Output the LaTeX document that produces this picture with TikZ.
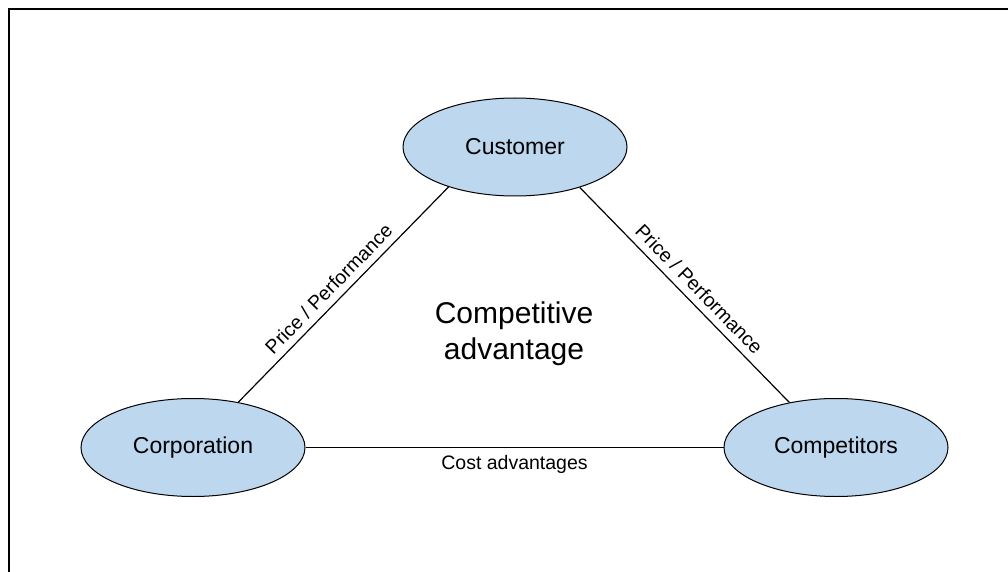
\documentclass[tikz,border=0pt]{standalone}
\usepackage{fontspec}
\setmainfont{Liberation Sans}
\usetikzlibrary{shapes.geometric}
\definecolor{cellblue}{RGB}{189,215,238}
\begin{document}
\begin{tikzpicture}[x=1pt,y=1pt,
  ell/.style={ellipse, draw=black, line width=1pt, fill=cellblue, minimum width=224pt, minimum height=98pt, inner sep=0pt, font=\fontsize{23}{27}\selectfont},
  lab/.style={font=\fontsize{19.5}{23}\selectfont, text=black, inner sep=7pt},
  conn/.style={draw=black, line width=1.2pt},
  frameline/.style={draw=black, line width=2pt}]
\useasboundingbox (0,0) rectangle (1008,571);
\coordinate (fa) at (8.5,-5);
\coordinate (fb) at (8.5,561.5);
\coordinate (fc) at (1015,561.5);
\draw[frameline] (fa) -- (fb) -- (fc);
\node[ell] (Customer) at (515,424) {Customer};
\node[ell] (Corporation) at (193,123.5) {Corporation};
\node[ell] (Competitors) at (836,123.5) {Competitors};
\node[align=center, font=\fontsize{30}{36}\selectfont] (adv) at (514,237) {Competitive\\advantage};
\draw[conn] (Corporation.45) -- node[lab, pos=0.48, above, sloped] {Price / Performance} (Customer.211);
\draw[conn] (Customer.328) -- node[lab, pos=0.52, above, sloped] {Price / Performance} (Competitors.136);
\draw[conn] (Corporation.east) -- node[lab, midway, below] {Cost advantages} (Competitors.west);
\end{tikzpicture}
\end{document}
